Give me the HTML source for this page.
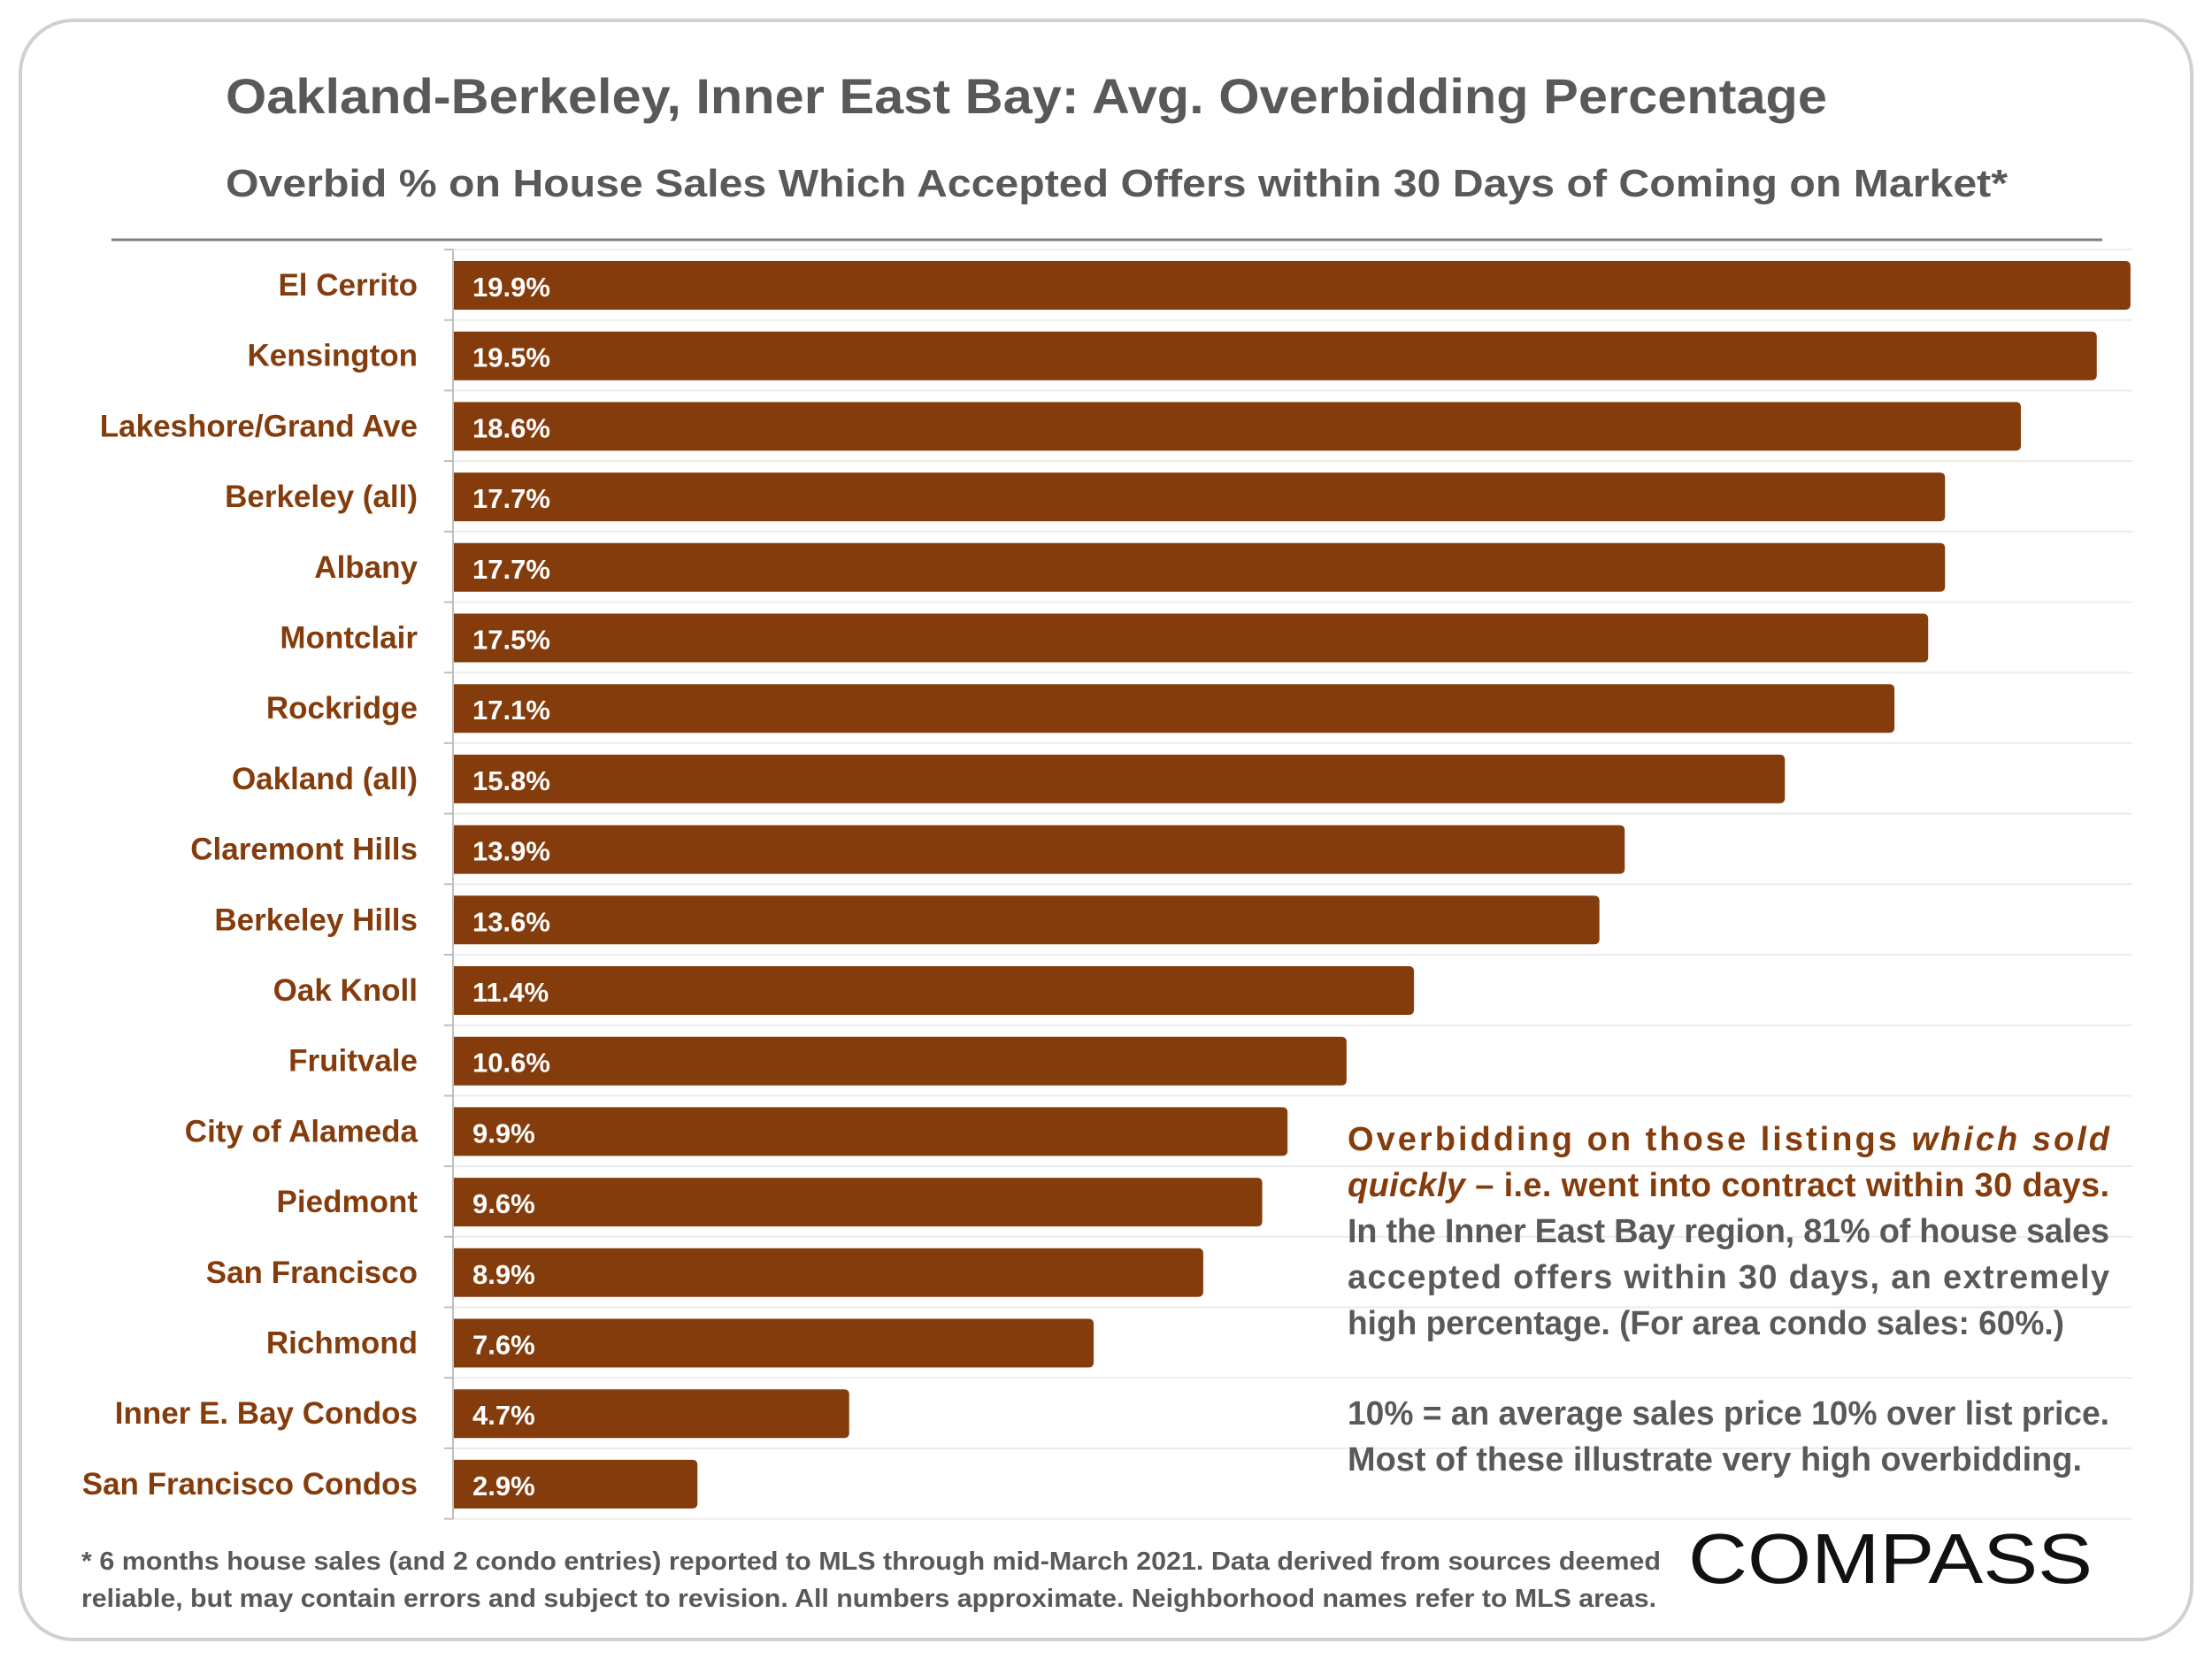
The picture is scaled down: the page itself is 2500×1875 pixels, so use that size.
<!DOCTYPE html>
<html><head><meta charset="utf-8"><style>
html,body{margin:0;padding:0;background:#fff;}
svg{display:block;font-family:"Liberation Sans",sans-serif;}
</style></head><body>
<svg id="chart" width="2500" height="1875" viewBox="0 0 2500 1875" xmlns="http://www.w3.org/2000/svg">
<rect x="23" y="23" width="2454" height="1830" rx="60" fill="#fff" stroke="#d0d0d0" stroke-width="4"/>
<text x="255" y="128" font-size="56" font-weight="bold" fill="#595959" textLength="1810" lengthAdjust="spacingAndGlyphs">Oakland-Berkeley, Inner East Bay: Avg. Overbidding Percentage</text>
<text x="255" y="222" font-size="44" font-weight="bold" fill="#595959" textLength="2014" lengthAdjust="spacingAndGlyphs">Overbid % on House Sales Which Accepted Offers within 30 Days of Coming on Market*</text>
<line x1="126" y1="271" x2="2376" y2="271" stroke="#7f7f7f" stroke-width="3"/>
<g id="grid"></g>
<g id="bars"></g>
<line x1="512" y1="282" x2="512" y2="1717" stroke="#bfbfbf" stroke-width="2"/>
<g font-size="38" font-weight="bold">
<text x="1523" y="1300" fill="#843C0C" textLength="861" lengthAdjust="spacing">Overbidding on those listings <tspan font-style="italic">which sold</tspan></text>
<text x="1523" y="1352" fill="#843C0C" textLength="861" lengthAdjust="spacing"><tspan font-style="italic">quickly</tspan> – i.e. went into contract within 30 days.</text>
<text x="1523" y="1404" fill="#595959" textLength="861" lengthAdjust="spacing">In the Inner East Bay region, 81% of house sales</text>
<text x="1523" y="1456" fill="#595959" textLength="861" lengthAdjust="spacing">accepted offers within 30 days, an extremely</text>
<text x="1523" y="1508" fill="#595959" textLength="810" lengthAdjust="spacingAndGlyphs">high percentage. (For area condo sales: 60%.)</text>
<text x="1523" y="1610" fill="#595959" textLength="861" lengthAdjust="spacingAndGlyphs">10% = an average sales price 10% over list price.</text>
<text x="1523" y="1662" fill="#595959" textLength="830" lengthAdjust="spacingAndGlyphs">Most of these illustrate very high overbidding.</text>
</g>
<g font-size="29" font-weight="bold" fill="#595959">
<text x="92" y="1774" textLength="1785" lengthAdjust="spacingAndGlyphs">* 6 months house sales (and 2 condo entries) reported to MLS through mid-March 2021. Data derived from sources deemed</text>
<text x="92" y="1816" textLength="1780" lengthAdjust="spacingAndGlyphs">reliable, but may contain errors and subject to revision. All numbers approximate. Neighborhood names refer to MLS areas.</text>
</g>
<text x="1908" y="1789" font-size="80" fill="#111" textLength="457" lengthAdjust="spacingAndGlyphs">COMPASS</text>
</svg>
<script>
const categories = ["El Cerrito","Kensington","Lakeshore/Grand Ave","Berkeley (all)","Albany","Montclair","Rockridge","Oakland (all)","Claremont Hills","Berkeley Hills","Oak Knoll","Fruitvale","City of Alameda","Piedmont","San Francisco","Richmond","Inner E. Bay Condos","San Francisco Condos"];
const values = [19.9,19.5,18.6,17.7,17.7,17.5,17.1,15.8,13.9,13.6,11.4,10.6,9.9,9.6,8.9,7.6,4.7,2.9];
const valueLabels = ["19.9%","19.5%","18.6%","17.7%","17.7%","17.5%","17.1%","15.8%","13.9%","13.6%","11.4%","10.6%","9.9%","9.6%","8.9%","7.6%","4.7%","2.9%"];

const NS = "http://www.w3.org/2000/svg";
const x0 = 512, pxPer = 95.27, top0 = 282, pitch = 79.7;
function xScale(v){ return x0 + v * pxPer; }
function bandTop(i){ return top0 + i * pitch; }
const grid = document.getElementById('grid');
const bars = document.getElementById('bars');
function mk(tag, attrs){ const e = document.createElementNS(NS, tag); for (const k in attrs) e.setAttribute(k, attrs[k]); return e; }

for (let i = 0; i <= categories.length; i++) {
  const y = bandTop(i);
  const gl = mk('line', {x1: x0, x2: 2410, y1: y, y2: y, stroke: '#ececec', 'stroke-width': 2});
  
  
  grid.appendChild(gl);
  const tk = mk('line', {x1: x0 - 10, x2: x0, y1: y, y2: y, stroke: '#bfbfbf', 'stroke-width': 2});
  
  
  grid.appendChild(tk);
}
categories.forEach((c, i) => {
  const t = bandTop(i);
  const w = xScale(values[i]) - x0;
  const r = 6;
  const yb = t + 13, h = 55;
  const d = `M${x0},${yb} H${x0 + w - r} Q${x0 + w},${yb} ${x0 + w},${yb + r} V${yb + h - r} Q${x0 + w},${yb + h} ${x0 + w - r},${yb + h} H${x0} Z`;
  const bar = mk('path', {d: d, fill: '#843C0C'});
  
  
  bars.appendChild(bar);
  const vl = mk('text', {x: 534, y: t + 53, 'font-size': 31, 'font-weight': 'bold', fill: '#fff'});
  vl.textContent = valueLabels[i];
  
  
  bars.appendChild(vl);
  const cl = mk('text', {x: 472, y: t + 52, 'font-size': 35, 'font-weight': 'bold', fill: '#843C0C', 'text-anchor': 'end'});
  cl.textContent = c;
  
  
  bars.appendChild(cl);
});
</script>
</body></html>
